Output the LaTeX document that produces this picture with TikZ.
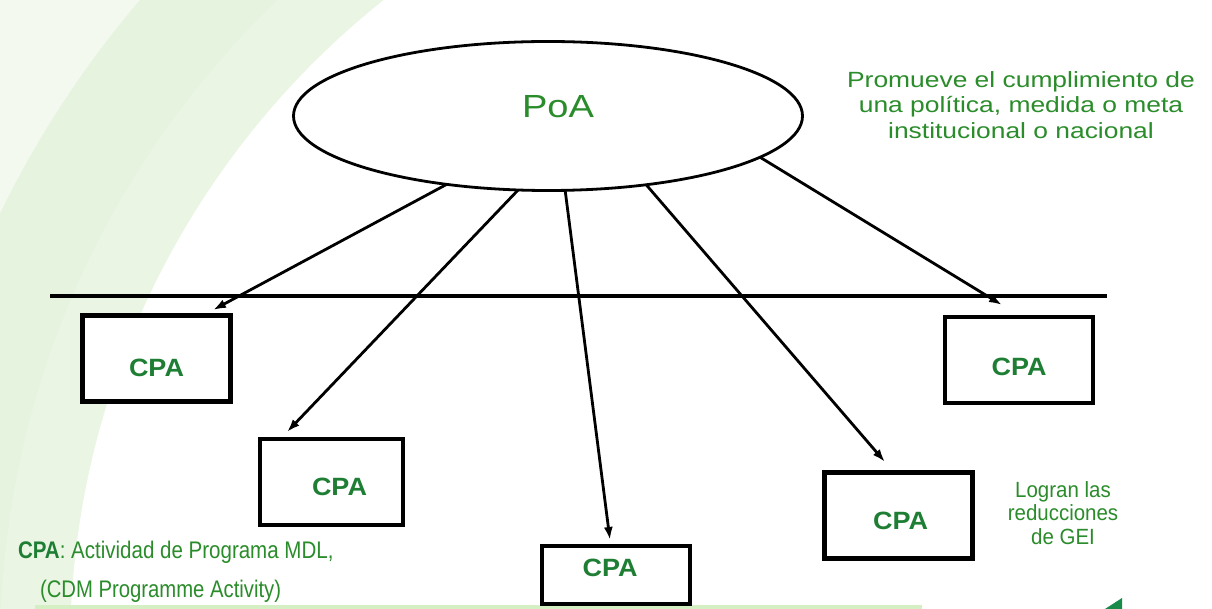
\documentclass[tikz,border=0pt]{standalone}
\usepackage{fontspec}
\setmainfont{Liberation Sans}
\usetikzlibrary{shapes.geometric,arrows.meta}
\definecolor{txtgreen}{HTML}{2A8C2A}
\definecolor{boldgreen}{HTML}{1E7E34}
\definecolor{bandgreen}{HTML}{EAF5E4}
\definecolor{bandgreenb}{HTML}{E6F3DF}
\definecolor{palegreen}{HTML}{F4F9F0}
\definecolor{bargreen}{HTML}{D4EFC4}
\definecolor{darkgreen}{HTML}{1A8A4A}
\begin{document}
\begin{tikzpicture}[x=1pt,y=-1pt,
  cpabox/.style={draw=black, line width=4.5pt, minimum width=148pt, minimum height=86pt,
    inner sep=0pt, outer sep=0pt, fill=white},
  cpatext/.style={text=boldgreen, inner sep=0pt, font=\fontsize{25}{29}\selectfont\bfseries},
  conn/.style={line width=2.8pt, -{Latex[length=13pt,width=9pt]}},
  greentext/.style={text=txtgreen, inner sep=0pt, outer sep=0pt}]
\useasboundingbox (0,0) rectangle (1212,609);
% background
\fill[white] (0,0) rectangle (1212,609);
\begin{scope}
  \clip (0,0) rectangle (1212,609);
  \fill[palegreen] (900,650) circle (1400);
  \fill[bandgreenb] (900,650) circle (1000);
  \fill[bandgreen] (900,650) circle (900);
  \fill[white] (900,650) circle (830);
\end{scope}
\fill[bargreen] (35,605) rectangle (922,609);
\fill[darkgreen] (1105,609) -- (1122,598) -- (1122,609) -- cycle;

% horizontal line
\coordinate (hl) at (50,296);
\coordinate (hr) at (1107,296);
\draw[line width=4pt] (hl) -- (hr);

% ellipse
\node[ellipse, draw=black, line width=2.8pt, fill=white, minimum width=509pt,
  minimum height=149pt, inner sep=0pt, outer sep=0pt] (poa) at (548,116) {};
\node[greentext, font=\fontsize{32}{38}\selectfont] (poatext) at (558,107) {\scalebox{1.19}[1]{PoA}};

% boxes
\node[cpabox, label={[cpatext, yshift=-9pt]center:\scalebox{1.08}[1]{CPA}}] (box1) at (156.5,358.5) {};
\node[cpabox, minimum width=143pt, label={[cpatext, xshift=8pt, yshift=-5pt]center:\scalebox{1.08}[1]{CPA}}] (box2) at (331.5,482) {};
\node[cpabox, minimum height=58pt, label={[cpatext, xshift=-6pt, yshift=7pt]center:\scalebox{1.08}[1]{CPA}}] (box3) at (616,575) {};
\node[cpabox, label={[cpatext, xshift=2pt, yshift=-5pt]center:\scalebox{1.08}[1]{CPA}}] (box4) at (898.5,515.5) {};
\node[cpabox, label={[cpatext, yshift=-7pt]center:\scalebox{1.08}[1]{CPA}}] (box5) at (1019,360) {};

% arrow tips
\coordinate (t1) at (213,310);
\coordinate (t2) at (287,432);
\coordinate (t3) at (610,540);
\coordinate (t4) at (885,462);
\coordinate (t5) at (1002,305);

\draw[conn] (poa.214) -- (t1);
\draw[conn] (poa.248) -- (t2);
\draw[conn] (poa.283.5) -- (t3);
\draw[conn] (poa.325) -- (t4);
\draw[conn] (poa.349) -- (t5);

% texts
\node[greentext, font=\fontsize{22}{25.5}\selectfont] (promueve) at (1021,107.5)
  {\scalebox{1.2}[1]{\begin{tabular}{@{}c@{}}Promueve el cumplimiento de\\ una política, medida o meta\\ institucional o nacional\end{tabular}}};
\node[greentext, font=\fontsize{22}{23.5}\selectfont] (logran) at (1063,516)
  {\scalebox{0.93}[1]{\begin{tabular}{@{}c@{}}Logran las\\ reducciones\\ de GEI\end{tabular}}};
\node[greentext, anchor=west, font=\fontsize{24}{28}\selectfont] (def1) at (18,552)
  {\scalebox{0.855}[1]{{\color{boldgreen}\bfseries CPA}: Actividad de Programa MDL,}};
\node[greentext, anchor=west, font=\fontsize{24}{28}\selectfont] (def2) at (40,591)
  {\scalebox{0.845}[1]{(CDM Programme Activity)}};
\end{tikzpicture}
\end{document}
